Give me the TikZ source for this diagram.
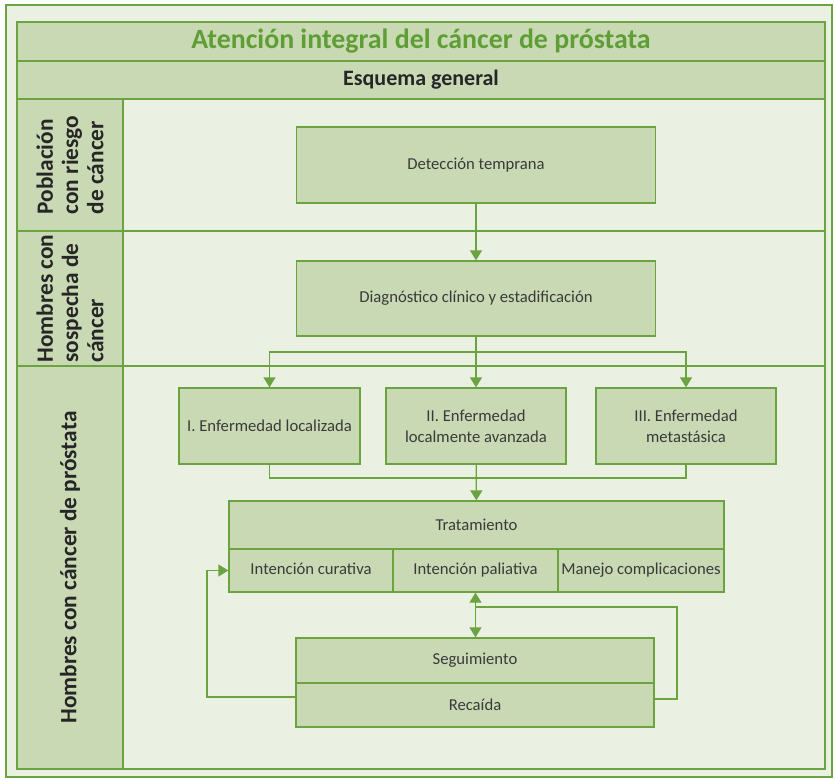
\documentclass[tikz,border=0pt]{standalone}
\usepackage{fontspec}
\setmainfont{Carlito}
\usetikzlibrary{arrows.meta}

\definecolor{verde}{RGB}{106,163,63}
\definecolor{verdetit}{RGB}{94,158,53}
\definecolor{relleno}{RGB}{200,217,180}
\definecolor{fondo}{RGB}{234,240,226}
\definecolor{texto}{RGB}{58,58,58}

\tikzset{
  caja/.style={draw=verde, fill=relleno, line width=1pt, inner sep=2pt, align=center, text=texto, font=\fontsize{12.5}{16}\selectfont},
  celda/.style={caja, inner sep=1pt, text height=1.7ex, text depth=0.5ex, minimum height=32.25pt},
  columna/.style={caja, rotate=90, text=black!85, align=left, font=\bfseries\fontsize{17.5}{19}\selectfont},
  linea/.style={draw=verde, line width=1pt},
  flecha/.style={linea, -{Triangle[width=9pt,length=7.5pt]}},
}

\begin{document}
\begin{tikzpicture}[x=0.75pt,y=0.75pt,yscale=-1,xscale=1]
\useasboundingbox (0,0) rectangle (836,779);

%Shape: Rectangle [outer frame]
\draw [linea, fill=fondo] (6,5) rectangle (832,777) ;
%Shape: Rectangle [main area]
\draw [linea] (123,99) rectangle (825,769) ;
%Straight Lines [row dividers]
\draw [linea] (123,231) -- (825,231) ;
\draw [linea] (123,366) -- (825,366) ;

% Title Nodes
\node [caja, minimum width=606pt, minimum height=29.25pt, text=verdetit, font=\bfseries\fontsize{20.9}{24}\selectfont] (titulo) at (421,41.5) {Atención integral del cáncer de próstata};
\node [caja, minimum width=606pt, minimum height=28.5pt, text=black!85, font=\bfseries\fontsize{16.5}{19}\selectfont] (esquema) at (421,80) {Esquema general};

% Column Nodes
\node [columna, minimum width=99pt, minimum height=79.5pt] (poblacion) at (70,165) {Población\\con riesgo\\de cáncer};
\node [columna, minimum width=101.25pt, minimum height=79.5pt] (sospecha) at (70,298.5) {Hombres con\\sospecha de\\cáncer};
\node [columna, minimum width=302.25pt, minimum height=79.5pt] (hombres) at (70,567.5) {Hombres con cáncer de próstata};

% Box Nodes
\node [caja, minimum width=269.25pt, minimum height=57pt] (deteccion) at (476,165) {Detección temprana};
\node [caja, minimum width=269.25pt, minimum height=56.25pt] (diagnostico) at (476,298.5) {Diagnóstico clínico y estadificación};
\node [caja, minimum width=135.75pt, minimum height=57pt] (localizada) at (269.5,426) {I. Enfermedad localizada};
\node [caja, minimum width=135pt, minimum height=57pt] (avanzada) at (476,426) {II. Enfermedad\\localmente avanzada};
\node [caja, minimum width=135pt, minimum height=57pt] (metastasica) at (686,426) {III. Enfermedad\\metastásica};

% Treatment Nodes
\node [caja, minimum width=371.25pt, minimum height=36pt] (tratamiento) at (476.5,525) {Tratamiento};
\node [celda, minimum width=123pt] (curativa) at (311,570.5) {Intención curativa};
\node [celda, minimum width=123.75pt] (paliativa) at (475.5,570.5) {Intención paliativa};
\node [celda, minimum width=124.5pt] (manejo) at (641,570.5) {Manejo complicaciones};

% Follow-up Nodes
\node [caja, minimum width=268.5pt, minimum height=33.75pt] (seguimiento) at (475,660.5) {Seguimiento};
\node [caja, minimum width=268.5pt, minimum height=33pt] (recaida) at (475,705) {Recaída};

%Connectors
\coordinate (rama) at (476,352) ;
\coordinate (junta) at (476,478) ;
\coordinate (retorno) at (207,570.5) ;
\coordinate (recodo) at (677,607) ;

\draw [flecha] (deteccion) -- (diagnostico) ;
\draw [flecha] (diagnostico) -- (avanzada) ;
\draw [flecha] (rama) -| (localizada) ;
\draw [flecha] (rama) -| (metastasica) ;
\draw [linea] (localizada) |- (junta) ;
\draw [linea] (metastasica) |- (junta) ;
\draw [flecha] (avanzada) -- (tratamiento) ;
\draw [flecha, {Triangle[width=9pt,length=7.5pt]}-{Triangle[width=9pt,length=7.5pt]}] (paliativa.south) -- (paliativa.south |- seguimiento.north) ;
\draw [flecha] ([yshift=-6pt]recaida.west) -| (retorno) -- (curativa.west) ;
\draw [linea] ([yshift=-4.5pt]recaida.east) -| (recodo) -- (recodo -| paliativa.south) ;

\end{tikzpicture}
\end{document}
